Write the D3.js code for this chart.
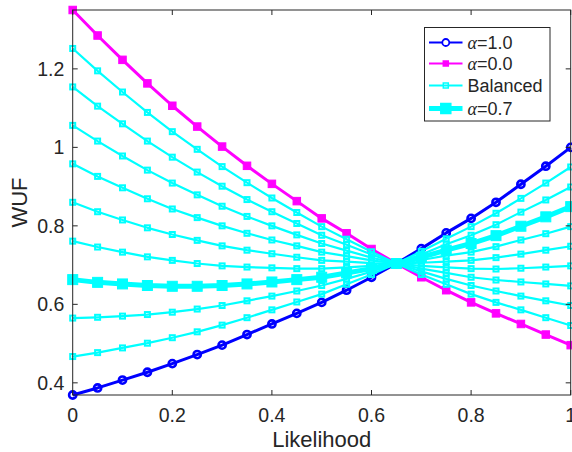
<!DOCTYPE html>
<html>
<head>
<meta charset="utf-8">
<script src="https://cdn.jsdelivr.net/npm/d3@7"></script>
<style>
  body { margin: 0; background: #fff; }
  text { font-family: "Liberation Sans", Arial, sans-serif; fill: #262626; }
</style>
</head>
<body>
<div id="container"></div>
<script>
// Values
const likelihood = [0, 0.05, 0.1, 0.15, 0.2, 0.25, 0.3, 0.35, 0.4, 0.45, 0.5,
  0.55, 0.6, 0.65, 0.7, 0.75, 0.8, 0.85, 0.9, 0.95, 1];

const wufAlpha10 = [0.369, 0.387, 0.407, 0.427, 0.449, 0.472, 0.496, 0.523, 0.550, 0.577, 0.605,
  0.636, 0.669, 0.704, 0.742, 0.782, 0.819, 0.860, 0.906, 0.952, 1.000];
const wufAlpha00 = [1.350, 1.285, 1.223, 1.163, 1.106, 1.053, 1.002, 0.953, 0.907, 0.863, 0.819,
  0.781, 0.741, 0.704, 0.669, 0.636, 0.605, 0.577, 0.550, 0.523, 0.496];

// thin cyan "Balanced" curves
const balanced01 = [1.252, 1.195, 1.141, 1.089, 1.040, 0.995, 0.951, 0.910, 0.871, 0.834, 0.798,
  0.766, 0.734, 0.704, 0.676, 0.651, 0.626, 0.605, 0.586, 0.566, 0.546];
const balanced02 = [1.154, 1.105, 1.060, 1.016, 0.975, 0.937, 0.901, 0.867, 0.836, 0.806, 0.776,
  0.752, 0.727, 0.704, 0.684, 0.665, 0.648, 0.634, 0.621, 0.609, 0.597];
const balanced03 = [1.056, 1.016, 0.978, 0.942, 0.909, 0.879, 0.850, 0.824, 0.800, 0.777, 0.755,
  0.737, 0.719, 0.704, 0.691, 0.680, 0.669, 0.662, 0.657, 0.652, 0.647];
const balanced04 = [0.958, 0.926, 0.897, 0.869, 0.843, 0.821, 0.800, 0.781, 0.764, 0.749, 0.733,
  0.723, 0.712, 0.704, 0.698, 0.694, 0.691, 0.690, 0.692, 0.695, 0.698];
const balanced05 = [0.860, 0.836, 0.815, 0.795, 0.778, 0.763, 0.749, 0.738, 0.729, 0.720, 0.712,
  0.709, 0.705, 0.704, 0.706, 0.709, 0.712, 0.719, 0.728, 0.738, 0.748];
const balanced06 = [0.761, 0.746, 0.733, 0.721, 0.712, 0.704, 0.698, 0.695, 0.693, 0.691, 0.691,
  0.694, 0.698, 0.704, 0.713, 0.724, 0.733, 0.747, 0.764, 0.780, 0.798];
const balanced08 = [0.565, 0.567, 0.570, 0.574, 0.580, 0.588, 0.597, 0.609, 0.621, 0.634, 0.648,
  0.665, 0.683, 0.704, 0.727, 0.753, 0.776, 0.803, 0.835, 0.866, 0.899];
const balanced09 = [0.467, 0.477, 0.489, 0.501, 0.515, 0.530, 0.547, 0.566, 0.586, 0.606, 0.626,
  0.651, 0.676, 0.704, 0.735, 0.767, 0.798, 0.832, 0.870, 0.909, 0.950];

// the highlighted curve
const wufAlpha07 = [0.663, 0.656, 0.652, 0.648, 0.646, 0.646, 0.648, 0.652, 0.657, 0.663, 0.669,
  0.680, 0.691, 0.704, 0.720, 0.738, 0.755, 0.775, 0.799, 0.823, 0.849];

const xTicks = [0, 0.2, 0.4, 0.6, 0.8, 1];
const yTicks = [0.4, 0.6, 0.8, 1, 1.2];
const legendLabels = ["α=1.0", "α=0.0", "Balanced", "α=0.7"];

const width = 572, height = 452;
const plot = { left: 72.7, right: 570.7, top: 10, bottom: 395 };
const axisColor = "#262626";

const svg = d3.create("svg")
  .attr("width", width)
  .attr("height", height);
container.append(svg.node());

const x = d3.scaleLinear().domain([0, 1]).range([plot.left, plot.right]);
const y = d3.scaleLinear().domain([0.369, 1.35]).range([plot.bottom, plot.top]);

const line = d3.line()
  .x((d, i) => x(likelihood[i]))
  .y(d => y(d));

// one entry per curve, drawn in legend order
const series = [
  { values: wufAlpha10, color: "#0000ff", width: 3, marker: "circle", size: 3.6 },
  { values: wufAlpha00, color: "#ff00ff", width: 3, marker: "square", size: 7.5, fill: true },
  ...[balanced01, balanced02, balanced03, balanced04, balanced05, balanced06, balanced08, balanced09]
    .map(v => ({ values: v, color: "#00ffff", width: 2.2, marker: "square", size: 5 })),
  { values: wufAlpha07, color: "#00ffff", width: 5, marker: "square", size: 10, fill: true }
];

const gCurves = svg.append("g");

series.forEach(s => {
  const g = gCurves.append("g");
  g.append("path")
    .datum(s.values)
    .attr("d", line)
    .attr("fill", "none")
    .attr("stroke", s.color)
    .attr("stroke-width", s.width)
    .attr("stroke-linejoin", "round");

  if (s.marker === "circle") {
    g.selectAll("circle")
      .data(s.values)
      .join("circle")
      .attr("cx", (d, i) => x(likelihood[i]))
      .attr("cy", d => y(d))
      .attr("r", s.size)
      .attr("fill", "none")
      .attr("stroke", s.color)
      .attr("stroke-width", 2.6);
  } else {
    g.selectAll("rect")
      .data(s.values)
      .join("rect")
      .attr("x", (d, i) => x(likelihood[i]) - s.size / 2)
      .attr("y", d => y(d) - s.size / 2)
      .attr("width", s.size)
      .attr("height", s.size)
      .attr("fill", s.fill ? s.color : "none")
      .attr("stroke", s.color)
      .attr("stroke-width", s.fill ? 1 : 2);
  }
});

// axes box with inward ticks on all four sides
const gAxes = svg.append("g");

gAxes.append("rect")
  .attr("x", plot.left)
  .attr("y", plot.top)
  .attr("width", plot.right - plot.left)
  .attr("height", plot.bottom - plot.top)
  .attr("fill", "none")
  .attr("stroke", axisColor)
  .attr("stroke-width", 1);

const tickLen = 5;
xTicks.forEach(t => {
  gAxes.append("line")
    .attr("x1", x(t)).attr("x2", x(t))
    .attr("y1", plot.bottom).attr("y2", plot.bottom - tickLen)
    .attr("stroke", axisColor);
  gAxes.append("line")
    .attr("x1", x(t)).attr("x2", x(t))
    .attr("y1", plot.top).attr("y2", plot.top + tickLen)
    .attr("stroke", axisColor);
  gAxes.append("text")
    .attr("x", x(t))
    .attr("y", plot.bottom + 27)
    .attr("text-anchor", "middle")
    .attr("font-size", 19.5)
    .text(d3.format("~g")(t));
});

yTicks.forEach(t => {
  gAxes.append("line")
    .attr("x1", plot.left).attr("x2", plot.left + tickLen)
    .attr("y1", y(t)).attr("y2", y(t))
    .attr("stroke", axisColor);
  gAxes.append("line")
    .attr("x1", plot.right).attr("x2", plot.right - tickLen)
    .attr("y1", y(t)).attr("y2", y(t))
    .attr("stroke", axisColor);
  gAxes.append("text")
    .attr("x", plot.left - 8.4)
    .attr("y", y(t))
    .attr("dy", "0.35em")
    .attr("text-anchor", "end")
    .attr("font-size", 19.5)
    .text(d3.format("~g")(t));
});

// axis labels
svg.append("text")
  .attr("x", (plot.left + plot.right) / 2)
  .attr("y", 447)
  .attr("text-anchor", "middle")
  .attr("font-size", 22)
  .text("Likelihood");

svg.append("text")
  .attr("transform", `translate(27,${(plot.top + plot.bottom) / 2}) rotate(-90)`)
  .attr("text-anchor", "middle")
  .attr("font-size", 22)
  .text("WUF");

// legend
const legend = svg.append("g");
legend.append("rect")
  .attr("x", 424.5).attr("y", 27.5)
  .attr("width", 125.5).attr("height", 93.5)
  .attr("fill", "#fff")
  .attr("stroke", axisColor)
  .attr("stroke-width", 1);

const legendKeys = [
  { color: "#0000ff", width: 2.2, marker: "circle", size: 3.5 },
  { color: "#ff00ff", width: 2.2, marker: "square", size: 5, fill: true },
  { color: "#00ffff", width: 2, marker: "square", size: 5 },
  { color: "#00ffff", width: 5, marker: "square", size: 10, fill: true }
];
const legendRows = [42.5, 63.5, 85.5, 108.5];

legendKeys.forEach((k, i) => {
  const yy = legendRows[i];
  legend.append("line")
    .attr("x1", 429).attr("x2", 462.5)
    .attr("y1", yy).attr("y2", yy)
    .attr("stroke", k.color)
    .attr("stroke-width", k.width);
  if (k.marker === "circle") {
    legend.append("circle")
      .attr("cx", 445.8).attr("cy", yy).attr("r", k.size)
      .attr("fill", "#fff").attr("stroke", k.color).attr("stroke-width", 1.8);
  } else {
    legend.append("rect")
      .attr("x", 445.8 - k.size / 2).attr("y", yy - k.size / 2)
      .attr("width", k.size).attr("height", k.size)
      .attr("fill", k.fill ? k.color : "none")
      .attr("stroke", k.color).attr("stroke-width", 1.5);
  }
  const label = legendLabels[i];
  const t = legend.append("text")
    .attr("x", 467.5)
    .attr("y", yy)
    .attr("dy", "0.36em")
    .attr("font-size", 18);
  if (label.startsWith("α")) {
    t.append("tspan")
      .attr("font-family", "'Liberation Serif', 'DejaVu Serif', serif")
      .attr("font-style", "italic")
      .text("α");
    t.append("tspan").text(label.slice(1));
  } else {
    t.text(label);
  }
});
</script>
</body>
</html>
